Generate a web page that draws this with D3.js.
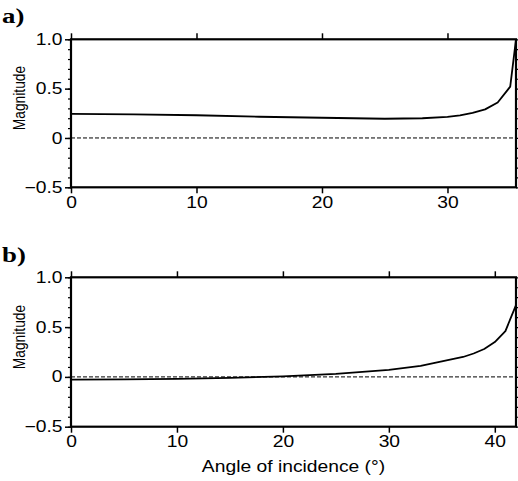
<!DOCTYPE html>
<html><head><meta charset="utf-8">
<script src="https://cdn.jsdelivr.net/npm/d3@7"></script>
<style>body{margin:0;background:#fff}svg{display:block}</style>
</head><body>
<svg id="c" width="518" height="481"></svg>
<script>
// Panel a data
const anglesA = [0, 5, 10, 15, 20, 25, 28, 30, 31, 32, 33, 34, 35, 35.46];
const magA    = [0.245, 0.24, 0.23, 0.215, 0.205, 0.195, 0.2, 0.213, 0.23, 0.254, 0.29, 0.36, 0.52, 1.0];
// Panel b data
const anglesB = [0, 5, 10, 15, 20, 25, 30, 33, 35, 37, 38, 39, 40, 41, 42];
const magB    = [-0.028, -0.025, -0.02, -0.01, 0.005, 0.03, 0.07, 0.11, 0.155, 0.2, 0.235, 0.28, 0.35, 0.46, 0.72];
const xTicksA = [0, 10, 20, 30];
const xTicksB = [0, 10, 20, 30, 40];
const yTicks = [-0.5, 0, 0.5, 1.0];
const yTickLabels = ["\u22120.5", "0", "0.5", "1.0"];
const yMinor = d3.range(-0.5, 1.0001, 0.1);

const svg = d3.select("#c");
const font = "Liberation Sans, Arial, Helvetica, sans-serif";
const SX = 1.22; // horizontal stretch of the text in the reference

function panel(opts) {
  const {top, bottom, left, right, xmax, xticks, xs, ys, letter, letterY, labelY} = opts;
  const x = d3.scaleLinear().domain([0, xmax]).range([left, right]);
  const y = d3.scaleLinear().domain([-0.5, 1.0]).range([bottom, top]);
  const g = svg.append("g");

  // zero dashed line
  g.append("line").attr("x1", left).attr("x2", right).attr("y1", y(0)).attr("y2", y(0))
    .attr("stroke", "#000").attr("stroke-width", 1).attr("stroke-dasharray", "4,2");

  // curve
  const line = d3.line().x((d, i) => x(xs[i])).y((d, i) => y(ys[i]));
  g.append("path").datum(ys).attr("d", line).attr("fill", "none")
    .attr("stroke", "#000").attr("stroke-width", 1.8).attr("stroke-linejoin", "round");

  // left axis
  const la = g.append("g").attr("transform", `translate(${left},0)`)
    .call(d3.axisLeft(y).tickValues(yTicks).tickFormat((d, i) => yTickLabels[i]).tickSize(6).tickPadding(1));
  la.select(".domain").remove();
  la.selectAll("text").attr("font-family", font).attr("font-size", 15.8).attr("fill", "#000")
    .attr("transform", `scale(${SX},1)`);
  la.selectAll("line").attr("stroke-width", 1.5);
  g.append("g").attr("transform", `translate(${left},0)`)
    .call(d3.axisLeft(y).tickValues(yMinor).tickFormat("").tickSize(3))
    .call(s => s.select(".domain").remove())
    .selectAll("line").attr("stroke-width", 1.2);
  // right axis minor ticks
  g.append("g").attr("transform", `translate(${right},0)`)
    .call(d3.axisRight(y).tickValues(yMinor).tickFormat("").tickSize(3))
    .call(s => s.select(".domain").remove())
    .selectAll("line").attr("stroke-width", 1.2);

  // bottom axis
  const ba = g.append("g").attr("transform", `translate(0,${bottom})`)
    .call(d3.axisBottom(x).tickValues(xticks).tickFormat(d3.format("d")).tickSize(6).tickPadding(3));
  ba.select(".domain").remove();
  ba.selectAll("text").attr("font-family", font).attr("font-size", 15.8).attr("fill", "#000")
    .attr("transform", `scale(${SX},1)`);
  ba.selectAll("line").attr("stroke-width", 1.5);
  // top axis
  const ta = g.append("g").attr("transform", `translate(0,${top})`)
    .call(d3.axisTop(x).tickValues(xticks).tickFormat("").tickSize(6));
  ta.select(".domain").remove();
  ta.selectAll("line").attr("stroke-width", 1.5);

  // frame
  g.append("rect").attr("x", left).attr("y", top).attr("width", right - left).attr("height", bottom - top)
    .attr("fill", "none").attr("stroke", "#000").attr("stroke-width", 2.2);

  // y label
  g.append("text").attr("transform", `translate(25,${labelY}) scale(${SX},1) rotate(-90)`)
    .attr("text-anchor", "middle").attr("font-family", font).attr("font-size", 13.8).text("Magnitude");

  // panel letter
  g.append("text").attr("transform", `translate(2,${letterY}) scale(${SX},1)`)
    .attr("font-family", "Liberation Serif, Times New Roman, serif")
    .attr("font-weight", "bold").attr("font-size", 22).text(letter);
  return x;
}

panel({top: 39.3, bottom: 187.3, left: 71, right: 516, xmax: 35.46, xticks: xTicksA,
  xs: anglesA, ys: magA, letter: "a)", letterY: 23, labelY: 98});
panel({top: 277.3, bottom: 426.7, left: 71, right: 516, xmax: 42, xticks: xTicksB,
  xs: anglesB, ys: magB, letter: "b)", letterY: 262, labelY: 337});

svg.append("text").attr("transform", `translate(293.5,472) scale(${SX},1)`).attr("text-anchor", "middle")
  .attr("font-family", font).attr("font-size", 15.8).text("Angle of incidence (°)");
</script>
</body></html>
